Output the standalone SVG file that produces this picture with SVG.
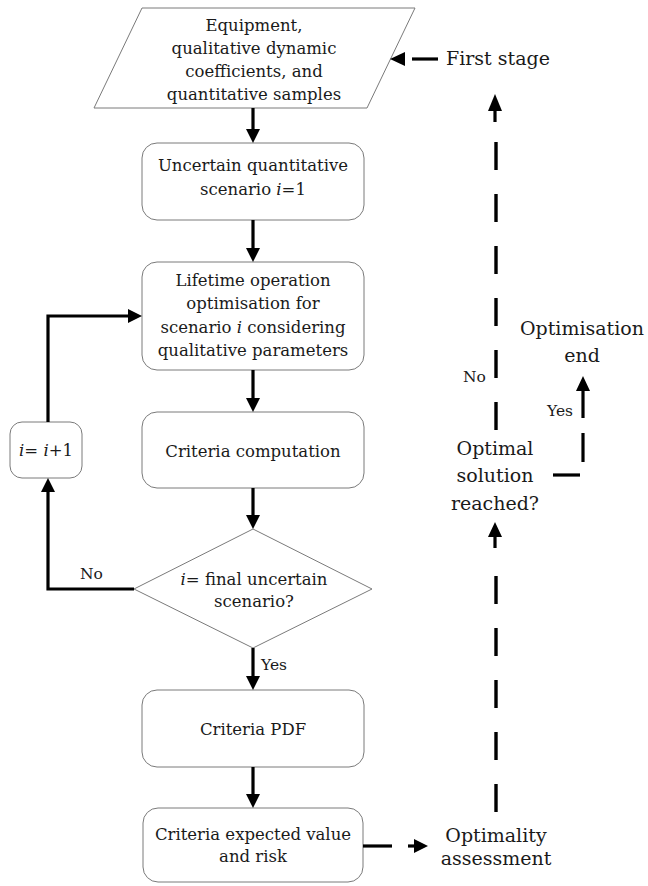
<svg xmlns="http://www.w3.org/2000/svg" width="648" height="886" viewBox="0 0 648 886">
<defs>
<style>
.box{fill:#fff;stroke:#7a7a7a;stroke-width:1}
.t{font-family:"DejaVu Serif","Liberation Serif",serif;font-size:16.5px;fill:#1a1a1a;text-anchor:middle}
.lbl{font-family:"DejaVu Serif","Liberation Serif",serif;font-size:15.5px;fill:#1a1a1a}
.big{font-family:"DejaVu Serif","Liberation Serif",serif;font-size:19px;fill:#1a1a1a;text-anchor:middle}
.it{font-style:italic}
.c{fill:none;stroke:#000;stroke-width:3.2}
.d{fill:none;stroke:#000;stroke-width:3.4;stroke-dasharray:28 24}
.h{fill:#000}
</style>
</defs>
<rect width="648" height="886" fill="#fff"/>

<g id="input">
<polygon class="box" points="142,8 415,8 367,108 94,108"/>
<text class="t" x="254" y="31">Equipment,</text>
<text class="t" x="254" y="54">qualitative dynamic</text>
<text class="t" x="254" y="77">coefficients, and</text>
<text class="t" x="254" y="100">quantitative samples</text>
</g>

<g id="scenario1">
<rect class="box" x="142" y="143" width="222" height="77" rx="15"/>
<text class="t" x="253" y="171">Uncertain quantitative</text>
<text class="t" x="253" y="195">scenario <tspan class="it">i</tspan>=1</text>
</g>

<g id="optimisation">
<rect class="box" x="142" y="262" width="222" height="108" rx="15"/>
<text class="t" x="253" y="286">Lifetime operation</text>
<text class="t" x="253" y="309">optimisation for</text>
<text class="t" x="253" y="333">scenario <tspan class="it">i</tspan> considering</text>
<text class="t" x="253" y="356">qualitative parameters</text>
</g>

<g id="criteria">
<rect class="box" x="142" y="412" width="222" height="76" rx="15"/>
<text class="t" x="253" y="457">Criteria computation</text>
</g>

<g id="increment">
<rect class="box" x="10" y="422" width="72" height="56" rx="12"/>
<text class="t" x="46" y="456"><tspan class="it">i</tspan>= <tspan class="it">i</tspan>+1</text>
</g>

<g id="decision">
<polygon class="box" points="253,529 372,589 253,648 134,589"/>
<text class="t" x="254" y="585"><tspan class="it">i</tspan>= final uncertain</text>
<text class="t" x="254" y="607">scenario?</text>
</g>

<g id="pdf">
<rect class="box" x="142" y="690" width="222" height="77" rx="15"/>
<text class="t" x="253" y="735">Criteria PDF</text>
</g>

<g id="expected">
<rect class="box" x="143" y="808" width="220" height="74" rx="15"/>
<text class="t" x="253" y="840">Criteria expected value</text>
<text class="t" x="253" y="862">and risk</text>
</g>

<g id="assessment">
<text class="big" x="496" y="842">Optimality</text>
<text class="big" x="496" y="865">assessment</text>
</g>

<g id="reached">
<text class="big" x="495" y="455">Optimal</text>
<text class="big" x="495" y="482">solution</text>
<text class="big" x="495" y="510">reached?</text>
</g>

<g id="end">
<text class="big" x="582" y="335">Optimisation</text>
<text class="big" x="582" y="362">end</text>
</g>

<g id="firststage">
<text class="big" x="446" y="65" style="text-anchor:start">First stage</text>
</g>

<g id="connectors">
<!-- solid main flow -->
<line class="c" x1="253" y1="108" x2="253" y2="131"/>
<polygon class="h" points="246,129 260,129 253,143"/>
<line class="c" x1="253" y1="220" x2="253" y2="250"/>
<polygon class="h" points="246,248 260,248 253,262"/>
<line class="c" x1="253" y1="370" x2="253" y2="400"/>
<polygon class="h" points="246,398 260,398 253,412"/>
<line class="c" x1="253" y1="488" x2="253" y2="517"/>
<polygon class="h" points="246,515 260,515 253,529"/>
<line class="c" x1="253" y1="648" x2="253" y2="678"/>
<polygon class="h" points="246,676 260,676 253,690"/>
<line class="c" x1="253" y1="767" x2="253" y2="796"/>
<polygon class="h" points="246,794 260,794 253,808"/>
<!-- loop -->
<polyline class="c" points="134,589 48,589 48,490"/>
<polygon class="h" points="41,492 55,492 48,478"/>
<polyline class="c" points="48,422 48,316 130,316"/>
<polygon class="h" points="128,309 128,323 142,316"/>
<!-- first stage -->
<line class="c" x1="412" y1="59" x2="438" y2="59"/>
<polygon class="h" points="405,52 405,66 390,59"/>
<!-- to optimality assessment -->
<line class="c" x1="363" y1="846" x2="392" y2="846"/>
<line class="c" x1="408" y1="846" x2="416" y2="846"/>
<polygon class="h" points="414,839 414,853 428,846"/>
<!-- up to optimal solution reached -->
<line class="d" x1="496" y1="812" x2="496" y2="560"/>
<line class="c" x1="495" y1="548" x2="495" y2="534"/>
<polygon class="h" points="488,537 502,537 495,522"/>
<!-- No: up to first stage -->
<line class="d" x1="496" y1="430" x2="496" y2="124"/>
<line class="c" x1="495" y1="122" x2="495" y2="108"/>
<polygon class="h" points="488,111 502,111 495,94"/>
<!-- Yes: to optimisation end -->
<line class="c" x1="553" y1="475" x2="580" y2="475"/>
<line class="c" x1="583" y1="462" x2="583" y2="433"/>
<line class="c" x1="583" y1="418" x2="583" y2="388"/>
<polygon class="h" points="576,391 590,391 583,376"/>
<!-- labels -->
<text class="lbl" x="80" y="579">No</text>
<text class="lbl" x="261" y="670">Yes</text>
<text class="lbl" x="463" y="382">No</text>
<text class="lbl" x="547" y="416">Yes</text>
</g>
</svg>
